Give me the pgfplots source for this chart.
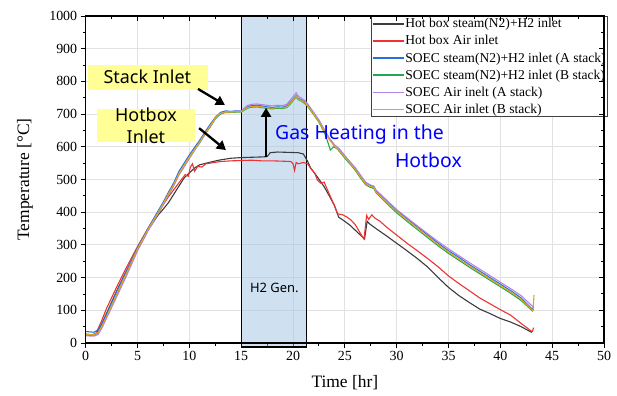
\documentclass[border=0pt]{standalone}
\usepackage{pgfplots}
\pgfplotsset{compat=1.18}
\usetikzlibrary{arrows.meta}
\usepackage{fontspec}
\setmainfont{Liberation Serif}
\newfontfamily\annot{Noto Sans}
\definecolor{gridgray}{RGB}{226,226,226}
\definecolor{cblack}{RGB}{60,60,60}
\definecolor{cred}{RGB}{238,50,50}
\definecolor{cblue}{RGB}{40,110,225}
\definecolor{cgreen}{RGB}{30,170,80}
\definecolor{cpurple}{RGB}{178,130,232}
\definecolor{cyellow}{RGB}{222,165,30}
\definecolor{boxblue}{RGB}{160,195,228}
\definecolor{hlyellow}{RGB}{255,255,150}
\begin{document}
\begin{tikzpicture}
\useasboundingbox (-85.7bp,-53bp) rectangle (531.3bp,343bp);
\begin{axis}[
  scale only axis, width=518.3bp, height=327bp,
  xmin=0, xmax=50, ymin=0, ymax=1000,
  xtick={0,5,...,50}, ytick={0,100,...,1000},
  minor x tick num=1, minor y tick num=1,
  xtick pos=left, ytick pos=left, tick align=outside,
  major tick length=5bp, minor tick length=3bp,
  grid=major, major grid style={draw=gridgray, line width=0.8bp},
  axis line style={line width=1.1bp},
  tick style={black, line width=0.9bp},
  /pgf/number format/assume math mode=true,
  /pgf/number format/1000 sep={},
  ticklabel style={font=\rmfamily\fontsize{14}{16}\selectfont},
  xlabel={Time [hr]}, ylabel={Temperature [°C]},
  label style={font=\rmfamily\fontsize{17.5}{20}\selectfont},
  xlabel style={at={(axis description cs:0.5,0)}, anchor=center, yshift=-40bp},
  ylabel style={at={(axis description cs:-0.1171,0.5)}, anchor=center},
  clip=false,
  legend style={at={(rel axis cs:1.008,1)}, anchor=north east, draw=black!75, line width=0.9bp,
    font=\rmfamily\fontsize{13.6}{15}\selectfont, inner sep=1bp, row sep=4.2bp, cells={anchor=west}, fill=white,
    nodes={inner sep=1bp}},
  legend image code/.code={\draw[#1, line width=1.4bp] (0bp,0bp) -- (31bp,0bp);},
  every axis plot/.append style={line width=1.1bp},
]
\draw[black, line width=1.3bp, fill=boxblue, fill opacity=0.5] (axis cs:15,-12) rectangle (axis cs:21.3,1000);

\addplot[cblack] coordinates {(0,25) (0.5,24) (1.0,28) (1.5,55) (2,90) (3,160) (4,225) (5,288) (6,345) (7,392) (7.5,410) (8,430) (8.5,455) (9,480) (9.5,505) (10,520) (10.5,535) (11,545) (12,553) (13,560) (14,565) (15,567) (16,568) (17,569) (17.5,570) (17.8,582) (18.5,584) (19.5,583) (20.5,582) (21,578) (21.4,556) (21.7,535) (22.3,510) (23,478) (23.5,450) (24,420) (24.4,385) (25,372) (25.5,360) (26,345) (26.5,330) (26.9,318) (27.15,372) (27.4,364) (28,350) (29,328) (30,305) (31,282) (32,258) (33,232) (34,200) (35,170) (36,145) (37,124) (38,104) (39,90) (40,75) (41,64) (42,50) (43,33) (43.15,38)};
\addlegendentry{Hot box steam(N2)+H2 inlet}

\addplot[cred] coordinates {(0,27) (0.6,25) (1.0,30) (1.5,65) (2,105) (3,172) (4,235) (5,295) (6,350) (7,400) (8,448) (9,490) (9.6,515) (9.9,510) (10.1,538) (10.3,548) (10.5,525) (10.8,540) (11.2,538) (11.6,548) (12,550) (13,555) (14,557) (15,558) (16,559) (17,557) (18,557) (19,556) (19.8,555) (20.0,548) (20.15,528) (20.3,552) (20.5,548) (21,552) (21.4,548) (21.7,535) (22.1,519) (22.35,498) (22.7,488) (23,492) (23.3,470) (24,420) (24.3,395) (24.8,392) (25.2,385) (25.6,376) (26,362) (26.6,330) (26.85,318) (27.1,390) (27.3,378) (27.6,392) (27.9,382) (28.4,372) (29,355) (30,330) (31,305) (32,282) (33,258) (34,233) (35,205) (36,182) (37,160) (38,138) (39,120) (40,102) (41,85) (42,60) (43,36) (43.1,36) (43.2,47)};
\addlegendentry{Hot box Air inlet}

\addplot[cblue] coordinates {(0,35) (0.8,33) (1.2,40) (1.6,62) (2,88) (3,158) (4,225) (5,292) (6,350) (7,405) (7.5,432) (8,462) (8.5,490) (9,525) (9.5,550) (10,575) (10.5,598) (11,620) (11.5,645) (12,668) (12.5,690) (13,705) (13.5,710) (14,708) (14.5,710) (15,710) (15.3,716) (15.6,722) (16,726) (16.5,727) (17,725) (17.5,722) (18,720) (18.5,722) (19,721) (19.4,725) (19.8,738) (20.1,750) (20.3,756) (20.5,748) (20.8,744) (21.1,738) (21.4,728) (22,702) (22.5,680) (23,652) (23.5,625) (24,605) (24.5,592) (25,572) (25.5,553) (26,535) (26.5,512) (27,490) (27.4,483) (27.8,478) (28,465) (29,435) (30,405) (31,380) (32,355) (33,330) (34,305) (35,282) (36,262) (37,240) (38,220) (39,200) (40,180) (41,160) (42,138) (43.1,103) (43.2,110)};
\addlegendentry{SOEC steam(N2)+H2 inlet (A stack)}

\addplot[cgreen] coordinates {(0,25) (0.8,24) (1.2,30) (1.6,52) (2,80) (3,148) (4,215) (5,285) (6,345) (7,398) (7.5,425) (8,455) (8.5,482) (9,515) (9.5,540) (10,565) (10.5,590) (11,612) (11.5,638) (12,660) (12.5,685) (13,700) (13.5,705) (14,705) (14.5,706) (15,706) (15.3,712) (15.6,718) (16,721) (16.5,722) (17,720) (17.5,717) (18,716) (18.5,718) (19,717) (19.4,720) (19.8,733) (20.1,745) (20.3,752) (20.5,744) (20.8,740) (21.1,733) (21.4,724) (22,698) (22.5,675) (23,645) (23.3,620) (23.6,590) (23.9,600) (24.2,595) (24.5,585) (25,565) (25.5,547) (26,528) (26.5,505) (27,484) (27.4,477) (27.8,472) (28,460) (29,428) (30,398) (31,372) (32,347) (33,322) (34,297) (35,274) (36,253) (37,232) (38,212) (39,192) (40,172) (41,152) (42,130) (43.1,98) (43.2,104)};
\addlegendentry{SOEC steam(N2)+H2 inlet (B stack)}

\addplot[cpurple] coordinates {(0,22) (0.8,21) (1.2,26) (1.6,48) (2,75) (3,142) (4,210) (5,282) (6,342) (7,396) (7.5,424) (8,454) (8.5,482) (9,515) (9.5,540) (10,565) (10.5,590) (11,613) (11.5,638) (12,662) (12.5,686) (13,702) (13.5,707) (14,708) (14.5,709) (15,709) (15.3,718) (15.6,726) (16,730) (16.5,731) (17,729) (17.5,727) (18,725) (18.5,727) (19,726) (19.4,730) (19.8,745) (20.1,757) (20.3,765) (20.5,755) (20.8,749) (21.1,742) (21.4,732) (22,705) (22.5,682) (23,654) (23.5,627) (24,606) (24.5,592) (25,572) (25.5,554) (26,536) (26.5,514) (27,492) (27.4,484) (27.8,480) (28,468) (29,438) (30,408) (31,383) (32,358) (33,334) (34,310) (35,288) (36,267) (37,246) (38,226) (39,206) (40,186) (41,166) (42,145) (43.1,112) (43.2,114)};
\addlegendentry{SOEC Air inelt (A stack)}

\addplot[cyellow] coordinates {(0,27) (0.8,26) (1.2,32) (1.6,54) (2,80) (3,150) (4,218) (5,288) (6,347) (7,400) (7.5,428) (8,457) (8.5,485) (9,518) (9.5,544) (10,568) (10.5,592) (11,615) (11.5,640) (12,663) (12.5,688) (13,702) (13.5,706) (14,706) (14.5,707) (15,707) (15.3,714) (15.6,720) (16,723) (16.5,724) (17,722) (17.5,719) (18,718) (18.5,720) (19,719) (19.4,722) (19.8,736) (20.1,748) (20.3,754) (20.5,746) (20.8,742) (21.1,736) (21.4,726) (22,700) (22.5,677) (23,649) (23.5,622) (24,602) (24.5,588) (25,568) (25.5,550) (26,531) (26.5,508) (27,487) (27.4,480) (27.8,475) (28,462) (29,432) (30,402) (31,376) (32,351) (33,326) (34,301) (35,278) (36,257) (37,236) (38,216) (39,196) (40,176) (41,156) (42,134) (43.1,100) (43.15,100) (43.25,147)};
\addlegendentry{SOEC Air inlet (B stack)}

% annotations
\node[font=\annot\fontsize{13}{15}\selectfont] at (axis cs:18.2,168) {H2 Gen.};
\fill[hlyellow] (axis cs:0.23,774) rectangle (axis cs:11.8,850);
\node[font=\annot\fontsize{18}{22}\selectfont, inner sep=0pt] at (axis cs:5.95,813) {Stack Inlet};
\fill[hlyellow] (axis cs:1.1,615) rectangle (axis cs:10.55,716);
\node[font=\annot\fontsize{18}{22}\selectfont, inner sep=0pt] at (axis cs:5.81,697) {Hotbox};
\node[font=\annot\fontsize{18}{22}\selectfont, inner sep=0pt] at (axis cs:5.81,630) {Inlet};
\draw[-{Triangle[length=9bp,width=10bp]}, line width=2.3bp] (axis cs:10.83,777) -- (axis cs:13.43,728);
\draw[-{Triangle[length=9bp,width=10bp]}, line width=2.3bp] (axis cs:10.94,657) -- (axis cs:13.53,590);
\draw[-{Triangle[length=9bp,width=10bp]}, line width=2.3bp] (axis cs:17.4,569) -- (axis cs:17.4,719);
\node[anchor=west, inner sep=0pt, text=blue, font=\annot\fontsize{19.5}{23}\selectfont] at (axis cs:18.26,639) {Gas Heating in the};
\node[anchor=east, inner sep=0pt, text=blue, font=\annot\fontsize{19.5}{23}\selectfont] at (axis cs:36.3,558) {Hotbox};
\end{axis}
\begin{axis}[
  scale only axis, width=518.3bp, height=327bp,
  xmin=0, xmax=50, ymin=0, ymax=1000,
  xtick={0,5,...,50}, ytick={0,100,...,1000},
  minor x tick num=1, minor y tick num=1,
  xtick pos=right, ytick pos=right, tick align=inside,
  major tick length=5bp, minor tick length=3bp,
  xticklabels={}, yticklabels={},
  axis line style={line width=1.1bp},
  tick style={black, line width=0.9bp},
]
\end{axis}
\end{tikzpicture}
\end{document}
